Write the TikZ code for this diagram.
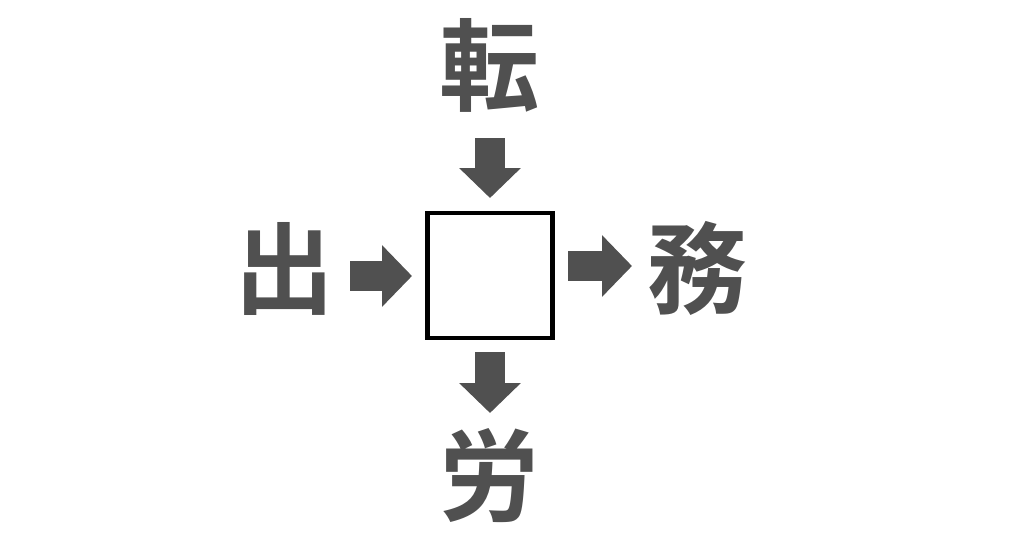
\documentclass[tikz,border=0pt]{standalone}
\usepackage{fontspec}
\newfontfamily\cjk{Noto Sans CJK JP Bold}
\usetikzlibrary{arrows.meta}

\definecolor{kanjigray}{HTML}{505050}

\tikzset{
  kanji/.style={font=\cjk\fontsize{57}{57}\selectfont, text=kanjigray, inner sep=0pt},
  blockarrow/.style={kanjigray, line width=0.6cm, -{Triangle[length=0.6cm, width=1.2cm]}}
}

\begin{document}
\begin{tikzpicture}[x=0.02cm, y=-0.02cm]

  %--- Cadre ---
  \useasboundingbox (0,0) rectangle (1024,538);

  %--- Case vide ---
  \node[draw=black, line width=2.4pt, minimum width=2.5cm, minimum height=2.5cm, inner sep=0pt] (box) at (490,275.5) {};

  %--- Kanji ---
  \node[kanji] (ten) at (490,65) {転};   % haut
  \node[kanji] (shutsu) at (285,269) {出};  % gauche
  \node[kanji] (mu) at (698,268) {務};   % droite
  \node[kanji] (rou) at (490,476) {労};  % bas

  %--- Extrémités des flèches ---
  \coordinate (t1) at (490,138);  \coordinate (t2) at (490,198);
  \coordinate (l1) at (350,276);  \coordinate (l2) at (412,276);
  \coordinate (r1) at (568,266);  \coordinate (r2) at (632,266);
  \coordinate (b1) at (490,352);  \coordinate (b2) at (490,413);

  %--- Flèches ---
  \draw[blockarrow] (t1) -- (t2);
  \draw[blockarrow] (l1) -- (l2);
  \draw[blockarrow] (r1) -- (r2);
  \draw[blockarrow] (b1) -- (b2);

\end{tikzpicture}
\end{document}
